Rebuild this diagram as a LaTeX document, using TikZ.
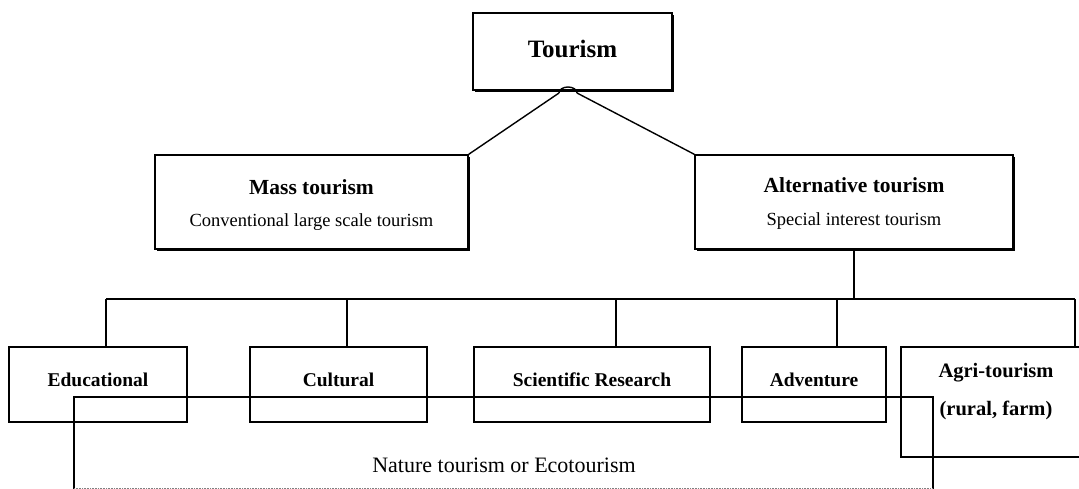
\documentclass[tikz,border=0pt]{standalone}
\usepackage{fontspec}
\setmainfont{Liberation Serif}
\usetikzlibrary{shadows}
\begin{document}
\begin{tikzpicture}[x=1pt,y=-1pt,
  line width=1.4pt,
  box/.style={draw, rectangle, inner sep=0pt},
  shadowbox/.style={box, fill=white,
    drop shadow={shadow xshift=1.8pt, shadow yshift=-1.8pt, fill=black, opacity=1}},
  rowbox/.style={box, minimum height=75pt},
  txt/.style={inner sep=0pt},
  toptext/.style={txt, font=\fontsize{25}{28}\selectfont\bfseries},
  titletext/.style={txt, font=\fontsize{21.5}{24}\selectfont\bfseries},
  subtext/.style={txt, font=\fontsize{18.5}{22}\selectfont},
  rowtext/.style={txt, font=\fontsize{19.5}{22}\selectfont\bfseries},
  link/.style={draw, line width=1.4pt},
]
\useasboundingbox (0,0) rectangle (1079,489);

% top level
\node[shadowbox, minimum width=199pt, minimum height=77pt] (tourism) at (572.5,51.5) {};
\node[toptext] (tourismT) at ([yshift=3pt]tourism.center) {Tourism};

% second level
\node[shadowbox, minimum width=313pt, minimum height=94pt] (mass) at (311.5,202) {};
\node[titletext] (massT) at ([yshift=15pt]mass.center) {Mass tourism};
\node[subtext] (massS) at ([yshift=-20pt]mass.center) {Conventional large scale tourism};
\node[shadowbox, minimum width=318pt, minimum height=94pt] (alt) at (854,202) {};
\node[titletext] (altT) at ([yshift=17pt]alt.center) {Alternative tourism};
\node[subtext] (altS) at ([yshift=-19pt]alt.center) {Special interest tourism};

% notch under the top box and the two branches
\coordinate (nl) at (559,93);
\coordinate (nr) at (577,93);
\draw (nl) arc[start angle=180, end angle=360, x radius=9, y radius=6];
\draw[link] (nl) -- (mass.north east);
\draw[link] (nr) -- (alt.north west);

% nature / ecotourism frame (boxes are transparent over it)
\coordinate (nbl) at (74,489);
\coordinate (ntl) at (74,397);
\coordinate (ntr) at (933,397);
\coordinate (nbr) at (933,489);
\draw (nbl) -- (ntl) -- (ntr) -- (nbr);
\draw[densely dotted, line width=0.6pt, gray] (74,488) -- (933,488);
\node[txt, font=\fontsize{22}{26}\selectfont] (nature) at (504,465) {Nature tourism or Ecotourism};

% third level
\node[rowbox, minimum width=178pt] (edu) at (98,384.5) {};
\node[rowbox, minimum width=177pt] (cul) at (338.5,384.5) {};
\node[rowbox, minimum width=236pt] (sci) at (592,384.5) {};
\node[rowbox, minimum width=144pt] (adv) at (814,384.5) {};
\node[box, minimum width=190pt, minimum height=110pt] (agri) at (996,402) {};
\node[rowtext] (eduT) at ([yshift=5pt]edu.center) {Educational};
\node[rowtext] (culT) at ([yshift=5pt]cul.center) {Cultural};
\node[rowtext] (sciT) at ([yshift=5pt]sci.center) {Scientific Research};
\node[rowtext] (advT) at ([yshift=5pt]adv.center) {Adventure};
\node[rowtext, font=\fontsize{20.5}{24}\selectfont\bfseries] (agriT) at ([yshift=29pt]agri.center) {Agri-tourism};
\node[rowtext, font=\fontsize{20.5}{24}\selectfont\bfseries] (agriS) at ([yshift=-8pt]agri.center) {(rural, farm)};

% distribution bus
\coordinate (b1) at (106,299);
\coordinate (b2) at (347,299);
\coordinate (b3) at (616,299);
\coordinate (b4) at (837,299);
\coordinate (b5) at (1075,299);
\draw[link] (alt.south) -- (alt.south |- b1);
\draw[link] (b1) -- (b5);
\draw[link] (b1) -- (b1 |- edu.north);
\draw[link] (b2) -- (b2 |- cul.north);
\draw[link] (b3) -- (b3 |- sci.north);
\draw[link] (b4) -- (b4 |- adv.north);
\draw[link] (b5) -- (b5 |- agri.north);
\end{tikzpicture}
\end{document}
